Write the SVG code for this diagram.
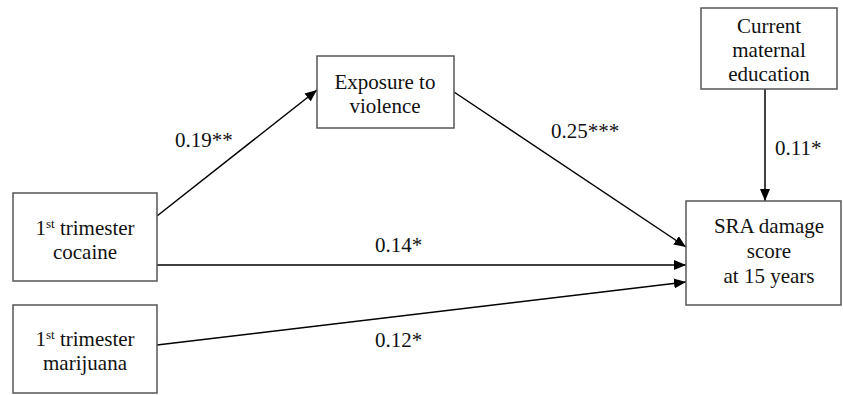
<svg xmlns="http://www.w3.org/2000/svg" width="843" height="395" viewBox="0 0 843 395">
<defs>
<marker id="ah" viewBox="0 0 12 10" refX="12" refY="5" markerWidth="12" markerHeight="10" markerUnits="userSpaceOnUse" orient="auto">
<path d="M0,0 L12,5 L0,10 z" fill="#000"/>
</marker>
<style>
.box{fill:#fff;stroke:#555;stroke-width:1.5}
.t{font-family:"Liberation Serif","Times New Roman",serif;font-size:21px;fill:#111;text-anchor:middle}
.lbl{font-family:"Liberation Serif","Times New Roman",serif;font-size:21px;fill:#111}
.sup{font-size:13px}
.edge{stroke:#000;stroke-width:1.5;fill:none;marker-end:url(#ah)}
</style>
</defs>
<rect width="843" height="395" fill="#fff"/>
<g id="connectors">
<line class="edge" x1="157" y1="216" x2="317" y2="90"/>
<line class="edge" x1="454" y1="92" x2="686" y2="247"/>
<line class="edge" x1="157" y1="265" x2="686" y2="265"/>
<line class="edge" x1="157" y1="345" x2="686" y2="282"/>
<line class="edge" x1="765" y1="89" x2="765" y2="201"/>
<text class="lbl" x="175" y="147">0.19**</text>
<text class="lbl" x="551" y="138">0.25***</text>
<text class="lbl" x="775" y="155">0.11*</text>
<text class="lbl" x="375" y="252">0.14*</text>
<text class="lbl" x="375" y="347">0.12*</text>
</g>
<g id="cocaine">
<rect class="box" x="13" y="193" width="144" height="88"/>
<text class="t" x="85" y="235">1<tspan class="sup" dy="-7">st</tspan><tspan dy="7"> trimester</tspan></text>
<text class="t" x="85" y="259">cocaine</text>
</g>
<g id="marijuana">
<rect class="box" x="13" y="305" width="144" height="88"/>
<text class="t" x="85" y="346">1<tspan class="sup" dy="-7">st</tspan><tspan dy="7"> trimester</tspan></text>
<text class="t" x="85" y="370">marijuana</text>
</g>
<g id="exposure">
<rect class="box" x="317" y="56" width="137" height="72"/>
<text class="t" x="385" y="89">Exposure to</text>
<text class="t" x="385" y="113">violence</text>
</g>
<g id="maternal">
<rect class="box" x="701" y="8" width="136" height="81"/>
<text class="t" x="769" y="33">Current</text>
<text class="t" x="769" y="57">maternal</text>
<text class="t" x="769" y="81">education</text>
</g>
<g id="sra">
<rect class="box" x="686" y="201" width="155" height="104"/>
<text class="t" x="769" y="233">SRA damage</text>
<text class="t" x="769" y="258">score</text>
<text class="t" x="769" y="283">at 15 years</text>
</g>
</svg>
